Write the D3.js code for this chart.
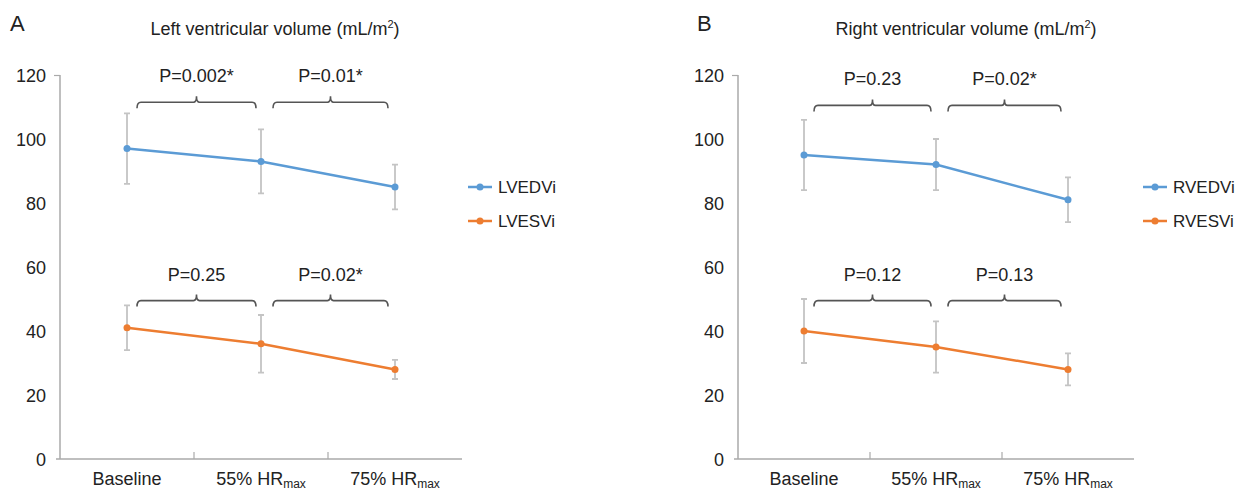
<!DOCTYPE html>
<html>
<head>
<meta charset="utf-8">
<script src="https://cdn.jsdelivr.net/npm/d3@7"></script>
<style>
  body { margin: 0; background: #fff; }
  svg text { font-family: "Liberation Sans", Arial, sans-serif; fill: #222; }
</style>
</head>
<body>
<div class="chart"></div>
<script>
// categories and tick labels
const categories = ['Baseline', '55%', '75%']
const yTicks = [0, 20, 40, 60, 80, 100, 120]

// panel A: left ventricle
const lvedvi = [97, 93, 85]
const lvedviLow = [86, 83, 78]
const lvedviHigh = [108, 103, 92]
const lvesvi = [41, 36, 28]
const lvesviLow = [34, 27, 25]
const lvesviHigh = [48, 45, 31]
const lvPvalues = ['P=0.002*', 'P=0.01*', 'P=0.25', 'P=0.02*']

// panel B: right ventricle
const rvedvi = [95, 92, 81]
const rvedviLow = [84, 84, 74]
const rvedviHigh = [106, 100, 88]
const rvesvi = [40, 35, 28]
const rvesviLow = [30, 27, 23]
const rvesviHigh = [50, 43, 33]
const rvPvalues = ['P=0.23', 'P=0.02*', 'P=0.12', 'P=0.13']

const blue = '#5b9bd5'
const orange = '#ed7d31'

const svg = d3.select('.chart')
    .append('svg')
    .attr('width', 1239)
    .attr('height', 492)

function drawPanel(opts) {
    const g = svg.append('g').attr('transform', 'translate(' + opts.left + ',0)')
    const width = opts.width
    const top = 75, bottom = 459

    const x = d3.scaleBand().domain(categories).range([0, width])
    const y = d3.scaleLinear().domain([0, 120]).range([bottom, top])
    const cx = c => x(c) + x.bandwidth() / 2

    // letter + title
    g.append('text')
        .attr('x', opts.letterX).attr('y', 31)
        .style('font-size', '22px')
        .text(opts.letter)
    const title = g.append('text')
        .attr('x', opts.titleX).attr('y', 35)
        .attr('text-anchor', 'middle')
        .style('font-size', '18px')
    title.append('tspan').text(opts.title + ' (mL/m')
    title.append('tspan').attr('dy', -7).style('font-size', '11px').text('2')
    title.append('tspan').attr('dy', 7).text(')')

    // y axis
    const yAxis = g.append('g')
        .call(d3.axisLeft(y).tickValues(yTicks).tickSize(0).tickPadding(14))
    yAxis.select('.domain').remove()
    yAxis.append('line').attr('x1', 0).attr('x2', 0).attr('y1', top).attr('y2', bottom)
        .attr('stroke', '#aaa').attr('stroke-width', 1.5)
    yAxis.selectAll('.tick text').style('font-size', '18px').attr('fill', '#222').attr('dy', '0.34em')
    yAxis.selectAll('.tick line').attr('stroke', '#aaa').attr('stroke-width', 1.2)
        .attr('x1', d => d === 120 ? -6 : 0).attr('x2', 0)

    // x axis
    const xAxis = g.append('g').attr('transform', 'translate(0,' + bottom + ')')
    xAxis.append('line').attr('x1', -4).attr('x2', width)
        .attr('stroke', '#aaa').attr('stroke-width', 1.5)
    xAxis.selectAll('.sep').data(categories.slice(1)).enter().append('line')
        .attr('x1', d => x(d)).attr('x2', d => x(d))
        .attr('y1', 0).attr('y2', -7)
        .attr('stroke', '#aaa').attr('stroke-width', 1.2)
    const xl = xAxis.selectAll('.lab').data(categories).enter().append('text')
        .attr('x', cx).attr('y', 26)
        .attr('text-anchor', 'middle')
        .style('font-size', '18px')
    xl.append('tspan').text(d => d === 'Baseline' ? 'Baseline' : d + ' HR')
    xl.filter(d => d !== 'Baseline').append('tspan')
        .attr('dy', 3).style('font-size', '12px').text('max')

    // series
    opts.series.forEach(s => {
        const pts = categories.map((c, i) => ({c: c, v: s.values[i], lo: s.low[i], hi: s.high[i]}))
        const eb = g.append('g')
        eb.selectAll('.err').data(pts).enter().append('path')
            .attr('d', d => {
                const px = cx(d.c), w = 3
                return 'M' + (px - w) + ',' + y(d.hi) + 'H' + (px + w) +
                       'M' + px + ',' + y(d.hi) + 'V' + y(d.lo) +
                       'M' + (px - w) + ',' + y(d.lo) + 'H' + (px + w)
            })
            .attr('fill', 'none').attr('stroke', '#c4c4c4').attr('stroke-width', 1.8)
        g.append('path').datum(pts)
            .attr('d', d3.line().x(d => cx(d.c)).y(d => y(d.v)))
            .attr('fill', 'none').attr('stroke', s.color).attr('stroke-width', 2.5)
        g.selectAll(null).data(pts).enter().append('circle')
            .attr('cx', d => cx(d.c)).attr('cy', d => y(d.v)).attr('r', 3.5)
            .attr('fill', s.color)
    })

    // brackets
    opts.brackets.forEach((b, i) => {
        const x1 = cx(categories[b.from]) + (b.from === 0 ? 10 : 12)
        const x2 = cx(categories[b.to]) - (b.from === 0 ? 5 : 7)
        const by = y(b.level)
        const mid = (x1 + x2) / 2
        g.append('path')
            .attr('d', 'M' + x1 + ',' + (by + 6) + 'Q' + x1 + ',' + by + ' ' + (x1 + 4) + ',' + by +
                       'H' + (mid - 3) + 'Q' + mid + ',' + by + ' ' + mid + ',' + (by - 6) +
                       'Q' + mid + ',' + by + ' ' + (mid + 3) + ',' + by +
                       'H' + (x2 - 4) + 'Q' + x2 + ',' + by + ' ' + x2 + ',' + (by + 6))
            .attr('fill', 'none').attr('stroke', '#555').attr('stroke-width', 1.6)
        g.append('text')
            .attr('x', mid).attr('y', by - 20)
            .attr('text-anchor', 'middle')
            .style('font-size', '18px')
            .text(opts.pvalues[i])
    })

    // legend
    opts.series.forEach((s, i) => {
        const ly = 187 + i * 34
        g.append('line').attr('x1', opts.legendX).attr('x2', opts.legendX + 24)
            .attr('y1', ly).attr('y2', ly)
            .attr('stroke', s.color).attr('stroke-width', 2.5)
        g.append('circle').attr('cx', opts.legendX + 12).attr('cy', ly).attr('r', 3.5)
            .attr('fill', s.color)
        g.append('text').attr('x', opts.legendX + 30).attr('y', ly + 6)
            .style('font-size', '17px')
            .text(s.name)
    })
}

drawPanel({
    left: 60, width: 402, letter: 'A', letterX: -50, titleX: 215,
    title: 'Left ventricular volume',
    legendX: 408,
    series: [
        {name: 'LVEDVi', values: lvedvi, low: lvedviLow, high: lvedviHigh, color: blue},
        {name: 'LVESVi', values: lvesvi, low: lvesviLow, high: lvesviHigh, color: orange}
    ],
    pvalues: lvPvalues,
    brackets: [
        {from: 0, to: 1, level: 111.5},
        {from: 1, to: 2, level: 111.5},
        {from: 0, to: 1, level: 49.5},
        {from: 1, to: 2, level: 49.5}
    ]
})

drawPanel({
    left: 738, width: 396, letter: 'B', letterX: -41, titleX: 228,
    title: 'Right ventricular volume',
    legendX: 405,
    series: [
        {name: 'RVEDVi', values: rvedvi, low: rvedviLow, high: rvedviHigh, color: blue},
        {name: 'RVESVi', values: rvesvi, low: rvesviLow, high: rvesviHigh, color: orange}
    ],
    pvalues: rvPvalues,
    brackets: [
        {from: 0, to: 1, level: 110.5},
        {from: 1, to: 2, level: 110.5},
        {from: 0, to: 1, level: 49.5},
        {from: 1, to: 2, level: 49.5}
    ]
})
</script>
</body>
</html>
